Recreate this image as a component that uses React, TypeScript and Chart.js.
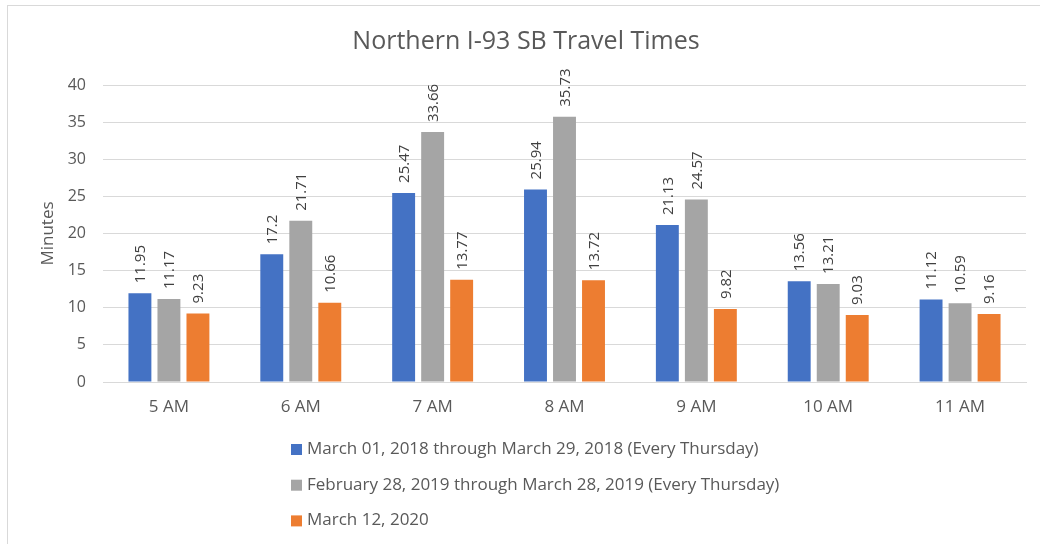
import React, { useEffect, useRef } from "react";
import { Chart, registerables } from "chart.js";

Chart.register(...registerables);

const categories = ["5 AM", "6 AM", "7 AM", "8 AM", "9 AM", "10 AM", "11 AM"];
const seriesLabels = [
  "March 01, 2018 through March 29, 2018 (Every Thursday)",
  "February 28, 2019 through March 28, 2019 (Every Thursday)",
  "March 12, 2020",
];
const series2018 = [11.95, 17.2, 25.47, 25.94, 21.13, 13.56, 11.12];
const series2019 = [11.17, 21.71, 33.66, 35.73, 24.57, 13.21, 10.59];
const series2020 = [9.23, 10.66, 13.77, 13.72, 9.82, 9.03, 9.16];
const seriesColors = ["#4472C4", "#A5A5A5", "#ED7D31"];
const yTicks = [0, 5, 10, 15, 20, 25, 30, 35, 40];

const FONT = "'Open Sans', 'Noto Sans', sans-serif";
const TEXT = "#595959";

const decorPlugin = {
  id: "decor",
  beforeDraw(chart: any) {
    const ctx = chart.ctx;
    ctx.save();
    ctx.fillStyle = "#ffffff";
    ctx.fillRect(0, 0, chart.width, chart.height);
    ctx.strokeStyle = "#d9d9d9";
    ctx.lineWidth = 1;
    ctx.strokeRect(7.5, 5.5, 1200, 1200);
    ctx.restore();
  },
  afterDraw(chart: any) {
    const ctx = chart.ctx;
    const area = chart.chartArea;
    ctx.save();
    // title
    ctx.fillStyle = TEXT;
    ctx.font = `25px ${FONT}`;
    ctx.textAlign = "center";
    ctx.textBaseline = "middle";
    ctx.fillText("Northern I-93 SB Travel Times", 526, 42);
    // y axis title
    ctx.save();
    ctx.translate(48, (area.top + area.bottom) / 2);
    ctx.rotate(-Math.PI / 2);
    ctx.font = `17px ${FONT}`;
    ctx.fillText("Minutes", 0, 0);
    ctx.restore();
    // data labels
    ctx.fillStyle = "#404040";
    ctx.font = `15px ${FONT}`;
    ctx.textAlign = "left";
    ctx.textBaseline = "middle";
    chart.data.datasets.forEach((ds: any, i: number) => {
      const meta = chart.getDatasetMeta(i);
      meta.data.forEach((bar: any, j: number) => {
        ctx.save();
        ctx.translate(bar.x + 1, bar.y - 10);
        ctx.rotate(-Math.PI / 2);
        ctx.fillText(String(ds.data[j]), 0, 0);
        ctx.restore();
      });
    });
    // legend
    ctx.font = `17px ${FONT}`;
    ctx.textBaseline = "middle";
    chart.data.datasets.forEach((ds: any, i: number) => {
      const y = 449 + i * 35.7;
      ctx.fillStyle = ds.backgroundColor;
      ctx.fillRect(291, y - 5, 11, 11);
      ctx.fillStyle = TEXT;
      ctx.fillText(ds.label, 307, y);
    });
    ctx.restore();
  },
};

export default function App() {
  const ref = useRef<HTMLCanvasElement | null>(null);
  useEffect(() => {
    if (!ref.current) return;
    const data = [series2018, series2019, series2020];
    const chart = new Chart(ref.current, {
      type: "bar",
      data: {
        labels: categories,
        datasets: data.map((d, i) => ({
          label: seriesLabels[i],
          data: d,
          backgroundColor: seriesColors[i],
          borderWidth: 0,
          categoryPercentage: 0.66,
          barPercentage: 0.79,
        })),
      },
      options: {
        animation: false,
        responsive: false,
        maintainAspectRatio: false,
        layout: { padding: { left: 0, right: 14, top: 85, bottom: 122 } },
        plugins: {
          legend: { display: false },
          title: { display: false },
          tooltip: { enabled: false },
        },
        scales: {
          x: {
            grid: { display: false, drawTicks: false },
            border: { display: true, color: "#d9d9d9", width: 1 },
            ticks: {
              color: TEXT,
              font: { family: FONT, size: 17 },
              padding: 15,
              maxRotation: 0,
            },
            afterFit: (s: any) => {
              s.height = 40;
            },
          },
          y: {
            min: 0,
            max: 40,
            afterBuildTicks: (s: any) => {
              s.ticks = yTicks.map((v) => ({ value: v }));
            },
            grid: { color: "#d9d9d9", drawTicks: false, lineWidth: 1 },
            border: { display: false },
            ticks: {
              color: TEXT,
              font: { family: FONT, size: 16 },
              padding: 17,
            },
            afterFit: (s: any) => {
              s.width = 103;
            },
          },
        },
      },
      plugins: [decorPlugin],
    });
    return () => chart.destroy();
  }, []);
  return (
    <div style={{ position: "fixed", left: 0, top: 0, width: 1040, height: 544, background: "#fff" }}>
      <canvas ref={ref} width={1040} height={544} style={{ display: "block" }} />
    </div>
  );
}
